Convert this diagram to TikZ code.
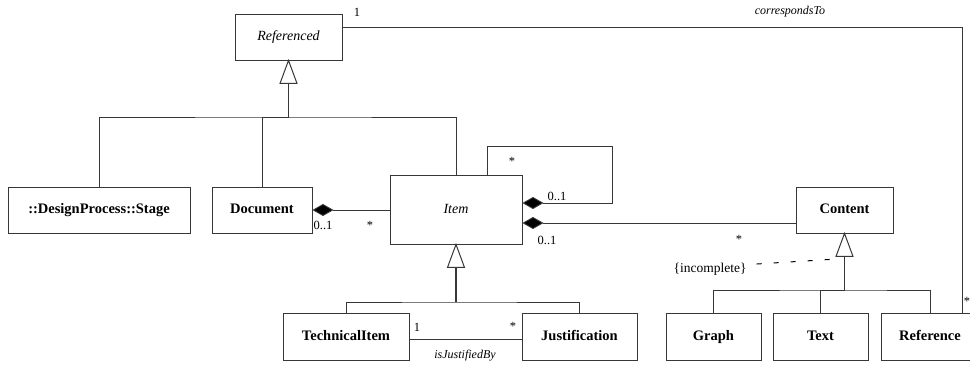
\documentclass[tikz,border=0pt]{standalone}
\usepackage{fontspec}
\setmainfont{Liberation Serif}
\usetikzlibrary{arrows.meta,calc}
\definecolor{linec}{RGB}{55,55,55}
\begin{document}
\begin{tikzpicture}[x=1pt,y=-1pt,
 cls/.style={draw=linec, line width=0.9pt, fill=white, inner sep=0pt, text height=10pt, text depth=3pt, font=\fontsize{14.5}{16}\selectfont\bfseries},
 abscls/.style={cls, font=\fontsize{14}{16}\selectfont\itshape},
 lbl/.style={inner sep=0pt, font=\fontsize{12.5}{14}\selectfont},
 ilbl/.style={inner sep=0pt, font=\fontsize{12}{14}\selectfont\itshape},
 assoc/.style={draw=linec, line width=0.9pt},
 stem/.style={draw=linec, line width=1.7pt},
 gentri/.style={draw=linec, line width=1pt, fill=white},
 comp/.style={assoc, {Diamond[length=21pt,width=12pt,fill=black]}-},
 incl/.style={draw=black, line width=1pt, dash pattern=on 5pt off 12pt},
]
\clip (0,0) rectangle (970,365);
\fill[white] (0,0) rectangle (970,365);

% classes
\node[abscls, minimum width=107pt, minimum height=46pt] (ref) at (288.5,37) {Referenced};
\node[cls, minimum width=182pt, minimum height=46pt] (stage) at (99,210) {::DesignProcess::Stage};
\node[cls, minimum width=100pt, minimum height=46pt] (doc) at (262,210) {Document};
\node[abscls, minimum width=132pt, minimum height=69pt] (item) at (456,209.5) {Item};
\node[cls, minimum width=97pt, minimum height=46pt] (content) at (844.5,210) {Content};
\node[cls, minimum width=126pt, minimum height=47pt] (tech) at (346,336.5) {TechnicalItem};
\node[cls, minimum width=115pt, minimum height=47pt] (just) at (579.5,336.5) {Justification};
\node[cls, minimum width=95pt, minimum height=47pt] (graph) at (713.5,336.5) {Graph};
\node[cls, minimum width=95pt, minimum height=47pt] (text) at (820.5,336.5) {Text};
\node[cls, minimum width=98pt, minimum height=47pt] (refer) at (930,336.5) {Reference};

% generalization: Referenced
\coordinate (refbar) at (288.5,117);
\draw[stem] ($(ref.south)+(0,23)$) -- (refbar);
\draw[gentri] (ref.south) -- ++(8.5,23) -- ++(-17,0) -- cycle;
\draw[assoc] (stage.north) |- (refbar) -| (item.north);
\draw[assoc] (doc.north) |- (refbar);

% generalization: Item
\coordinate (itembar) at (456,302);
\draw[stem] ($(item.south)+(0,23)$) -- (itembar);
\draw[gentri] (item.south) -- ++(8.5,23) -- ++(-17,0) -- cycle;
\draw[assoc] (tech.north) |- (itembar) -| (just.north);

% generalization: Content
\coordinate (cbar) at (844.5,290);
\draw[stem] ($(content.south)+(0,23)$) -- (cbar);
\draw[gentri] (content.south) -- ++(8.5,23) -- ++(-17,0) -- cycle;
\draw[assoc] (graph.north) |- (cbar) -| (refer.north);
\draw[assoc] (text.north) |- (cbar);

% compositions
\draw[comp] (doc.east) -- (item.west |- doc.east);
\coordinate (iloop) at ($(item.east)+(0,-6.5)$);
\coordinate (loopc) at (612,146);
\coordinate (loopend) at ($(item.north)+(31,0)$);
\draw[comp] (iloop) -| (loopc) -| (loopend);
\coordinate (icont) at ($(item.east)+(0,13.5)$);
\draw[comp] (icont) -- (icont -| content.west);

% associations
\coordinate (tj) at ($(tech.east)+(0,2.5)$);
\draw[assoc] (tj) -- (tj -| just.west);
\coordinate (rc) at ($(ref.east)+(0,-10)$);
\coordinate (rr) at ($(refer.north)+(32,0)$);
\draw[assoc] (rc) -| (rr);

% incomplete constraint
\node[lbl, font=\fontsize{13.5}{15}\selectfont] (inc) at (710,269) {\{incomplete\}};
\coordinate (incend) at (837,259);
\draw[incl] ($(inc.east)+(10,-5)$) -- (incend);

% labels
\node[lbl] (l1) at (357,12) {1};
\node[ilbl] (l2) at (790,12) {correspondsTo};
\node[lbl] (l3) at (967,301) {*};
\node[lbl] (l4) at (512,161) {*};
\node[lbl] (l5) at (557,196) {0..1};
\node[lbl] (l6) at (547,240) {0..1};
\node[lbl] (l7) at (739,239) {*};
\node[lbl] (l8) at (323,225) {0..1};
\node[lbl] (l9) at (370,225) {*};
\node[lbl] (l10) at (417,327) {1};
\node[lbl] (l11) at (513,326) {*};
\node[ilbl] (l12) at (465,356) {isJustifiedBy};
\end{tikzpicture}
\end{document}
